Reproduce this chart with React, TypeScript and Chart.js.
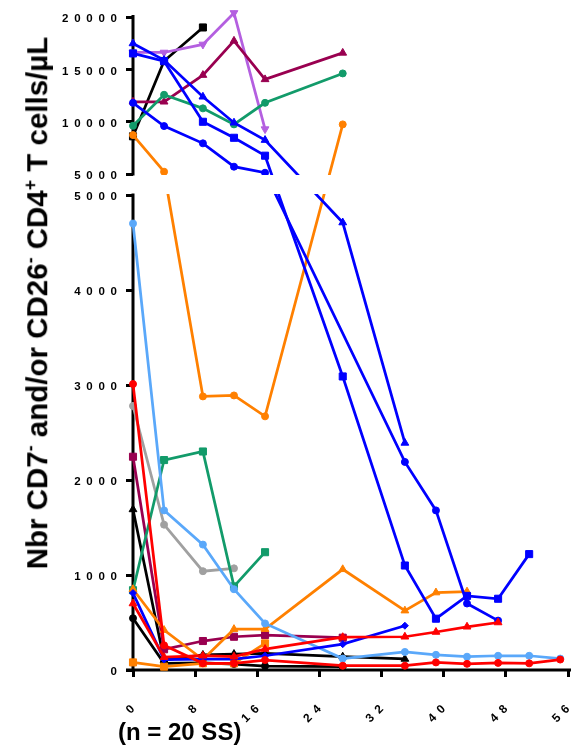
import React, { useEffect, useRef } from 'react';
import { Chart, registerables, LinearScale } from 'chart.js';

const FONT = "'Liberation Sans', Arial, Helvetica, sans-serif";

// ---- axis definitions ----
const X_MIN = 0;
const X_MAX = 56;
const X_STEP = 8;
const Y_BREAK = 5000;
const Y_MAX = 20000;
const Y_LOW_TICKS = [0, 1000, 2000, 3000, 4000, 5000];
const Y_HIGH_TICKS = [5000, 10000, 15000, 20000];

// ---- data (days, cells/µL) ----
const lilacDays = [0, 4, 9, 13, 17];
const lilacCells = [16610, 16610, 17380, 20390, 9290];

const maroonTriDays = [0, 4, 9, 13, 17, 27];
const maroonTriCells = [11900, 11900, 14450, 17720, 14040, 16570];

const greenCircDays = [0, 4, 9, 13, 17, 27];
const greenCircCells = [9610, 12570, 11270, 9740, 11800, 14610];

const blackSqDays = [0, 4, 9];
const blackSqCells = [8600, 15800, 19000];

const blueTriDays = [0, 4, 9, 13, 17, 27, 35];
const blueTriCells = [17470, 15880, 12380, 9900, 8240, 4710, 2390];

const blueSqDays = [0, 4, 9, 13, 17, 27, 35, 39, 43, 47, 51];
const blueSqCells = [16520, 15780, 9990, 8460, 6750, 3090, 1100, 540, 780, 750, 1220];

const blueCircDays = [0, 4, 9, 13, 17, 35, 39, 43, 47];
const blueCircCells = [11800, 9580, 7930, 5700, 5120, 2190, 1680, 700, 520];

const orangeCircDays = [0, 4, 9, 13, 17, 27];
const orangeCircCells = [8720, 5220, 2880, 2890, 2670, 9740];

const lightBlueDays = [0, 4, 9, 13, 17, 27, 35, 39, 43, 47, 51, 55];
const lightBlueCells = [4700, 1680, 1320, 850, 490, 120, 190, 160, 140, 150, 150, 120];

const grayDays = [0, 4, 9, 13];
const grayCells = [2780, 1530, 1040, 1070];

const greenSqDays = [0, 4, 9, 13, 17];
const greenSqCells = [840, 2210, 2300, 880, 1240];

const redCircDays = [0, 4, 9, 13, 17, 27, 35, 39, 43, 47, 51, 55];
const redCircCells = [3010, 260, 70, 70, 105, 45, 45, 80, 65, 75, 70, 110];

const redTriDays = [0, 4, 9, 13, 17, 27, 35, 39, 43, 47];
const redTriCells = [700, 135, 150, 140, 220, 345, 350, 400, 455, 500];

const blueDiaDays = [0, 4, 9, 13, 17, 27, 35];
const blueDiaCells = [810, 110, 115, 115, 150, 272, 466];

const orangeTriDays = [0, 4, 9, 13, 17, 27, 35, 39, 43];
const orangeTriCells = [850, 420, 110, 430, 430, 1060, 625, 815, 825];

const orangeSqDays = [0, 4, 9, 13, 17];
const orangeSqCells = [80, 35, 70, 70, 280];

const maroonSqDays = [0, 4, 9, 13, 17, 27];
const maroonSqCells = [2245, 218, 305, 350, 368, 340];

const blackTriDays = [0, 4, 9, 13, 17, 27, 35];
const blackTriCells = [1690, 105, 158, 168, 175, 140, 116];

const blackCircDays = [0, 4, 9, 13, 17, 27];
const blackCircCells = [545, 70, 74, 63, 42, 35];

const BLUE = '#0000FF';
const RED = '#FF0000';
const ORANGE = '#FF8000';
const MAROON = '#990050';
const GREEN = '#129B6A';
const LIGHTBLUE = '#5AA8FA';
const GRAY = '#A0A0A0';
const LILAC = '#B45FE0';
const BLACK = '#000000';

// draw order: first entries end up on top
const SERIES = [
  { days: redCircDays, cells: redCircCells, color: RED, style: 'circle' },
  { days: redTriDays, cells: redTriCells, color: RED, style: 'triangle' },
  { days: blueDiaDays, cells: blueDiaCells, color: BLUE, style: 'rectRot' },
  { days: blueSqDays, cells: blueSqCells, color: BLUE, style: 'rect' },
  { days: blueTriDays, cells: blueTriCells, color: BLUE, style: 'triangle' },
  { days: blueCircDays, cells: blueCircCells, color: BLUE, style: 'circle' },
  { days: lightBlueDays, cells: lightBlueCells, color: LIGHTBLUE, style: 'circle' },
  { days: orangeCircDays, cells: orangeCircCells, color: ORANGE, style: 'circle' },
  { days: orangeTriDays, cells: orangeTriCells, color: ORANGE, style: 'triangle' },
  { days: orangeSqDays, cells: orangeSqCells, color: ORANGE, style: 'rect' },
  { days: greenSqDays, cells: greenSqCells, color: GREEN, style: 'rect' },
  { days: greenCircDays, cells: greenCircCells, color: GREEN, style: 'circle' },
  { days: maroonSqDays, cells: maroonSqCells, color: MAROON, style: 'rect' },
  { days: maroonTriDays, cells: maroonTriCells, color: MAROON, style: 'triangle' },
  { days: grayDays, cells: grayCells, color: GRAY, style: 'circle' },
  { days: lilacDays, cells: lilacCells, color: LILAC, style: 'triangleDown' },
  { days: blackTriDays, cells: blackTriCells, color: BLACK, style: 'triangle' },
  { days: blackCircDays, cells: blackCircCells, color: BLACK, style: 'circle' },
  { days: blackSqDays, cells: blackSqCells, color: BLACK, style: 'rect' },
];

// fractions of the plot height used by each panel of the broken axis
const LOW_FRAC = 475 / 653;
const HIGH_FRAC = 157 / 653;

class BrokenScale extends LinearScale {
  static id = 'broken';
  segs() {
    const top = this.top;
    const bottom = this.bottom;
    const h = bottom - top;
    return { top, bottom, lowTop: bottom - h * LOW_FRAC, highBottom: top + h * HIGH_FRAC };
  }
  mapValue(value: number, seg: number) {
    const s = this.segs();
    if (seg === 0) return s.bottom - (value / Y_BREAK) * (s.bottom - s.lowTop);
    return s.highBottom - ((value - Y_BREAK) / (Y_MAX - Y_BREAK)) * (s.highBottom - s.top);
  }
  getPixelForValue(value: number) {
    return this.mapValue(value, value <= Y_BREAK ? 0 : 1);
  }
  buildTicks() {
    return [
      ...Y_LOW_TICKS.map((v) => ({ value: v, seg: 0 })),
      ...Y_HIGH_TICKS.map((v) => ({ value: v, seg: 1 })),
    ];
  }
  getPixelForTick(index: number) {
    const t: any = this.ticks[index];
    if (!t) return null;
    return this.mapValue(t.value, t.seg);
  }
}

Chart.register(...registerables, BrokenScale);

const spaced = (v: number) => String(v).split('').join('\u2002');

const brokenAxisPlugin = {
  id: 'brokenAxis',
  beforeDatasetsDraw(chart: any) {
    const { ctx, chartArea } = chart;
    const s = chart.scales.y.segs();
    ctx.save();
    ctx.strokeStyle = '#000';
    ctx.lineWidth = 3;
    ctx.beginPath();
    ctx.moveTo(chartArea.left, s.top - 2);
    ctx.lineTo(chartArea.left, s.highBottom + 1.5);
    ctx.moveTo(chartArea.left, s.lowTop - 1.5);
    ctx.lineTo(chartArea.left, s.bottom + 1.5);
    ctx.moveTo(chartArea.left - 7, s.bottom);
    ctx.lineTo(chartArea.right + 3, s.bottom);
    ctx.stroke();
    ctx.restore();
  },
  afterDatasetsDraw(chart: any) {
    const { ctx, chartArea } = chart;
    const s = chart.scales.y.segs();
    ctx.save();
    ctx.fillStyle = '#fff';
    ctx.fillRect(chartArea.left + 2, s.highBottom + 1, chart.width, s.lowTop - s.highBottom - 2);
    ctx.restore();
  },
};

export default function App() {
  const ref = useRef<HTMLCanvasElement>(null);
  useEffect(() => {
    const datasets = SERIES.map((s) => {
      const down = s.style === 'triangleDown';
      const style = down ? 'triangle' : s.style;
      const radius = style === 'circle' ? 3.5 : style === 'rect' ? 5 : style === 'rectRot' ? 3.5 : 4.5;
      return {
        data: s.days.map((d, i) => ({ x: d, y: s.cells[i] })),
        borderColor: s.color,
        backgroundColor: s.color,
        pointBackgroundColor: s.color,
        pointBorderColor: s.color,
        borderWidth: 2.75,
        pointBorderWidth: 1,
        pointRadius: radius,
        pointStyle: style,
        pointRotation: down ? 180 : 0,
        tension: 0,
        clip: false,
      };
    });
    const yFont = { family: FONT, size: 11.5, weight: 'bold' as const };
    const xFont = { family: FONT, size: 12, weight: 'bold' as const };
    const chart = new Chart(ref.current!, {
      type: 'line',
      data: { datasets },
      plugins: [brokenAxisPlugin],
      options: {
        responsive: false,
        animation: false,
        events: [],
        devicePixelRatio: 1,
        layout: { padding: { left: 0, top: 17, right: 7, bottom: 0 } },
        plugins: { legend: { display: false }, tooltip: { enabled: false }, title: { display: false } },
        scales: {
          x: {
            type: 'linear',
            min: X_MIN,
            max: X_MAX,
            ticks: {
              stepSize: X_STEP,
              autoSkip: false,
              minRotation: 45,
              maxRotation: 45,
              padding: 25,
              color: '#000',
              font: xFont,
              callback: (v: any) => spaced(Number(v)),
            },
            grid: { drawOnChartArea: false, drawTicks: true, tickLength: 7, lineWidth: 3, color: '#000' },
            border: { display: false },
            afterFit: (sc: any) => {
              sc.height = 76;
              sc.paddingLeft = 0;
              sc.paddingRight = 0;
            },
          },
          y: {
            type: 'broken' as any,
            min: 0,
            max: Y_MAX,
            ticks: {
              autoSkip: false,
              padding: 9,
              labelOffset: 2,
              color: '#000',
              font: yFont,
              callback: (v: any) => spaced(Number(v)),
            },
            grid: { drawOnChartArea: false, drawTicks: true, tickLength: 7, lineWidth: 3, color: '#000' },
            border: { display: false },
            afterFit: (sc: any) => {
              sc.width = 133;
              sc.paddingTop = 0;
              sc.paddingBottom = 0;
            },
          },
        },
      },
    } as any);
    return () => chart.destroy();
  }, []);

  const supStyle: React.CSSProperties = { fontSize: '0.6em', verticalAlign: 'super', lineHeight: 0 };
  return (
    <div style={{ position: 'absolute', left: 0, top: 0, width: 575, height: 746, background: '#fff', fontFamily: FONT }}>
      <canvas ref={ref} width={575} height={746} style={{ position: 'absolute', left: 0, top: 0, width: 575, height: 746 }} />
      <div
        style={{
          position: 'absolute',
          left: 37,
          top: 303,
          transform: 'translate(-50%, -50%) rotate(-90deg)',
          whiteSpace: 'nowrap',
          fontWeight: 'bold',
          fontSize: 29.5,
          lineHeight: 1,
          color: '#000',
        }}
      >
        Nbr CD7<span style={supStyle}>-</span> and/or CD26<span style={supStyle}>-</span> CD4<span style={supStyle}>+</span> T cells/µL
      </div>
      <div style={{ position: 'absolute', left: 118, top: 719, fontWeight: 'bold', fontSize: 24, lineHeight: '26px', whiteSpace: 'nowrap', color: '#000' }}>
        (n = 20 SS)
      </div>
    </div>
  );
}
